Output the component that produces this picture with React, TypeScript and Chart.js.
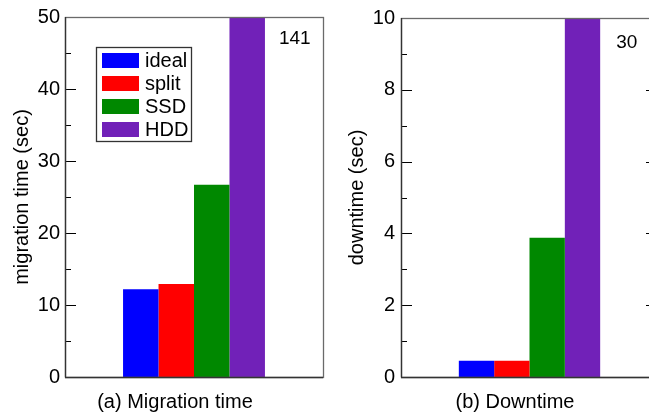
import React, { useEffect, useRef } from "react";
import { Chart, registerables } from "chart.js";

Chart.register(...registerables);

const FONT = "'Liberation Sans', Arial, Helvetica, sans-serif";

const categories = [""];
const seriesLabels = ["ideal", "split", "SSD", "HDD"];
const seriesColors = ["#0000FF", "#FF0000", "#008800", "#7121B8"];
const migrationTime = [12.2, 12.9, 26.7, 141];
const downtime = [0.45, 0.45, 3.88, 30];
const migrationAxis = { max: 50, step: 10, minor: 5 };
const downtimeAxis = { max: 10, step: 2, minor: 1 };
const migrationTitle = "migration time (sec)";
const downtimeTitle = "downtime (sec)";
const captionA = "(a) Migration time";
const captionB = "(b) Downtime";

type Cfg = {
  values: number[];
  axis: { max: number; step: number; minor: number };
  yTitle: string;
  caption: string;
  captionX: number;
  titlePadTop: number;
  tickPad: number;
  yWidth: number;
  padRight: number;
  mirror: boolean;
  legend: boolean;
  labelDx: number;
  labelDy: number;
};

function makeChart(canvas: HTMLCanvasElement, cfg: Cfg) {
  const decor = {
    id: "decor",
    afterDatasetsDraw(chart: any) {
      const ctx = chart.ctx;
      const a = chart.chartArea;
      const y = chart.scales.y;
      ctx.save();
      ctx.strokeStyle = "#000";
      ctx.lineWidth = 1;
      for (let v = 0; v <= cfg.axis.max + 1e-9; v += cfg.axis.minor) {
        const py = Math.round(y.getPixelForValue(v)) + 0.5;
        const major = Math.abs(v / cfg.axis.step - Math.round(v / cfg.axis.step)) < 1e-6;
        const len = major ? 11 : 6;
        ctx.beginPath();
        ctx.moveTo(a.left, py);
        ctx.lineTo(a.left + len, py);
        if (cfg.mirror) {
          ctx.moveTo(a.right, py);
          ctx.lineTo(a.right - len - 1, py);
        }
        ctx.stroke();
      }
      ctx.strokeStyle = "#6a6a6a";
      ctx.lineWidth = 1.3;
      ctx.strokeRect(Math.round(a.left) + 0.5, Math.round(a.top) + 0.5, Math.round(a.right - a.left), Math.round(a.bottom - a.top));
      ctx.strokeStyle = "#333";
      ctx.beginPath();
      ctx.moveTo(a.left, Math.round(a.bottom) + 0.5);
      ctx.lineTo(a.right, Math.round(a.bottom) + 0.5);
      ctx.moveTo(Math.round(a.left) + 0.5, a.top);
      ctx.lineTo(Math.round(a.left) + 0.5, a.bottom);
      ctx.stroke();
      const last = chart.data.datasets.length - 1;
      const bar: any = chart.getDatasetMeta(last).data[0];
      const val = chart.data.datasets[last].data[0];
      ctx.fillStyle = "#000";
      ctx.font = `19px ${FONT}`;
      ctx.textAlign = "left";
      ctx.textBaseline = "middle";
      ctx.fillText(String(val), bar.x + bar.width / 2 + cfg.labelDx, a.top + cfg.labelDy);
      ctx.font = `20px ${FONT}`;
      ctx.textAlign = "center";
      ctx.fillText(cfg.caption, cfg.captionX, 402);
      ctx.restore();
    },
    afterDraw(chart: any) {
      if (!cfg.legend) return;
      const ctx = chart.ctx;
      ctx.save();
      ctx.fillStyle = "#fff";
      ctx.fillRect(96, 47, 95, 94);
      ctx.strokeStyle = "#333";
      ctx.lineWidth = 1.3;
      ctx.strokeRect(96.5, 47.5, 95, 94);
      ctx.font = `20px ${FONT}`;
      ctx.textAlign = "left";
      ctx.textBaseline = "middle";
      chart.data.datasets.forEach((ds: any, i: number) => {
        const top = 53 + i * 23;
        ctx.fillStyle = ds.backgroundColor;
        ctx.fillRect(102, top, 37, 15);
        ctx.fillStyle = "#000";
        ctx.fillText(ds.label, 145, top + 8);
      });
      ctx.restore();
    },
  };

  return new Chart(canvas, {
    type: "bar",
    data: {
      labels: categories,
      datasets: seriesLabels.map((label, i) => ({
        label,
        data: [cfg.values[i]],
        backgroundColor: seriesColors[i],
        borderWidth: 0,
        barPercentage: 1,
        categoryPercentage: 0.55,
      })),
    },
    options: {
      responsive: false,
      animation: false,
      devicePixelRatio: 1,
      layout: { padding: { left: 0, right: cfg.padRight, top: 17, bottom: 0 } },
      plugins: { legend: { display: false }, tooltip: { enabled: false }, title: { display: false } },
      scales: {
        x: {
          grid: { display: false },
          border: { display: false },
          ticks: { display: false },
          afterFit: (s: any) => {
            s.height = 37;
          },
        },
        y: {
          min: 0,
          max: cfg.axis.max,
          grid: { display: false, drawTicks: false },
          border: { display: false },
          ticks: {
            stepSize: cfg.axis.step,
            padding: cfg.tickPad,
            color: "#000",
            font: { family: FONT, size: 20 },
          },
          title: {
            display: true,
            text: cfg.yTitle,
            color: "#000",
            font: { family: FONT, size: 20 },
            padding: { top: cfg.titlePadTop, bottom: 0 },
          },
          afterFit: (s: any) => {
            s.width = cfg.yWidth;
          },
        },
      },
    },
    plugins: [decor],
  } as any);
}

export default function App() {
  const ref1 = useRef<HTMLCanvasElement>(null);
  const ref2 = useRef<HTMLCanvasElement>(null);
  useEffect(() => {
    const c1 = makeChart(ref1.current!, {
      values: migrationTime,
      axis: migrationAxis,
      yTitle: migrationTitle,
      caption: captionA,
      captionX: 175,
      titlePadTop: 10,
      tickPad: 5,
      yWidth: 65,
      padRight: 7,
      mirror: false,
      legend: true,
      labelDx: 14,
      labelDy: 22,
    });
    const c2 = makeChart(ref2.current!, {
      values: downtime,
      axis: downtimeAxis,
      yTitle: downtimeTitle,
      caption: captionB,
      captionX: 185,
      titlePadTop: 15,
      tickPad: 6,
      yWidth: 71,
      padRight: 7,
      mirror: true,
      legend: false,
      labelDx: 16,
      labelDy: 25,
    });
    return () => {
      c1.destroy();
      c2.destroy();
    };
  }, []);
  return (
    <div style={{ position: "fixed", left: 0, top: 0, width: 649, height: 414, overflow: "hidden", background: "#fff" }}>
      <canvas ref={ref1} width={330} height={414} style={{ position: "absolute", left: 0, top: 0, width: 330, height: 414 }} />
      <canvas ref={ref2} width={335} height={414} style={{ position: "absolute", left: 330, top: 0, width: 335, height: 414 }} />
    </div>
  );
}
